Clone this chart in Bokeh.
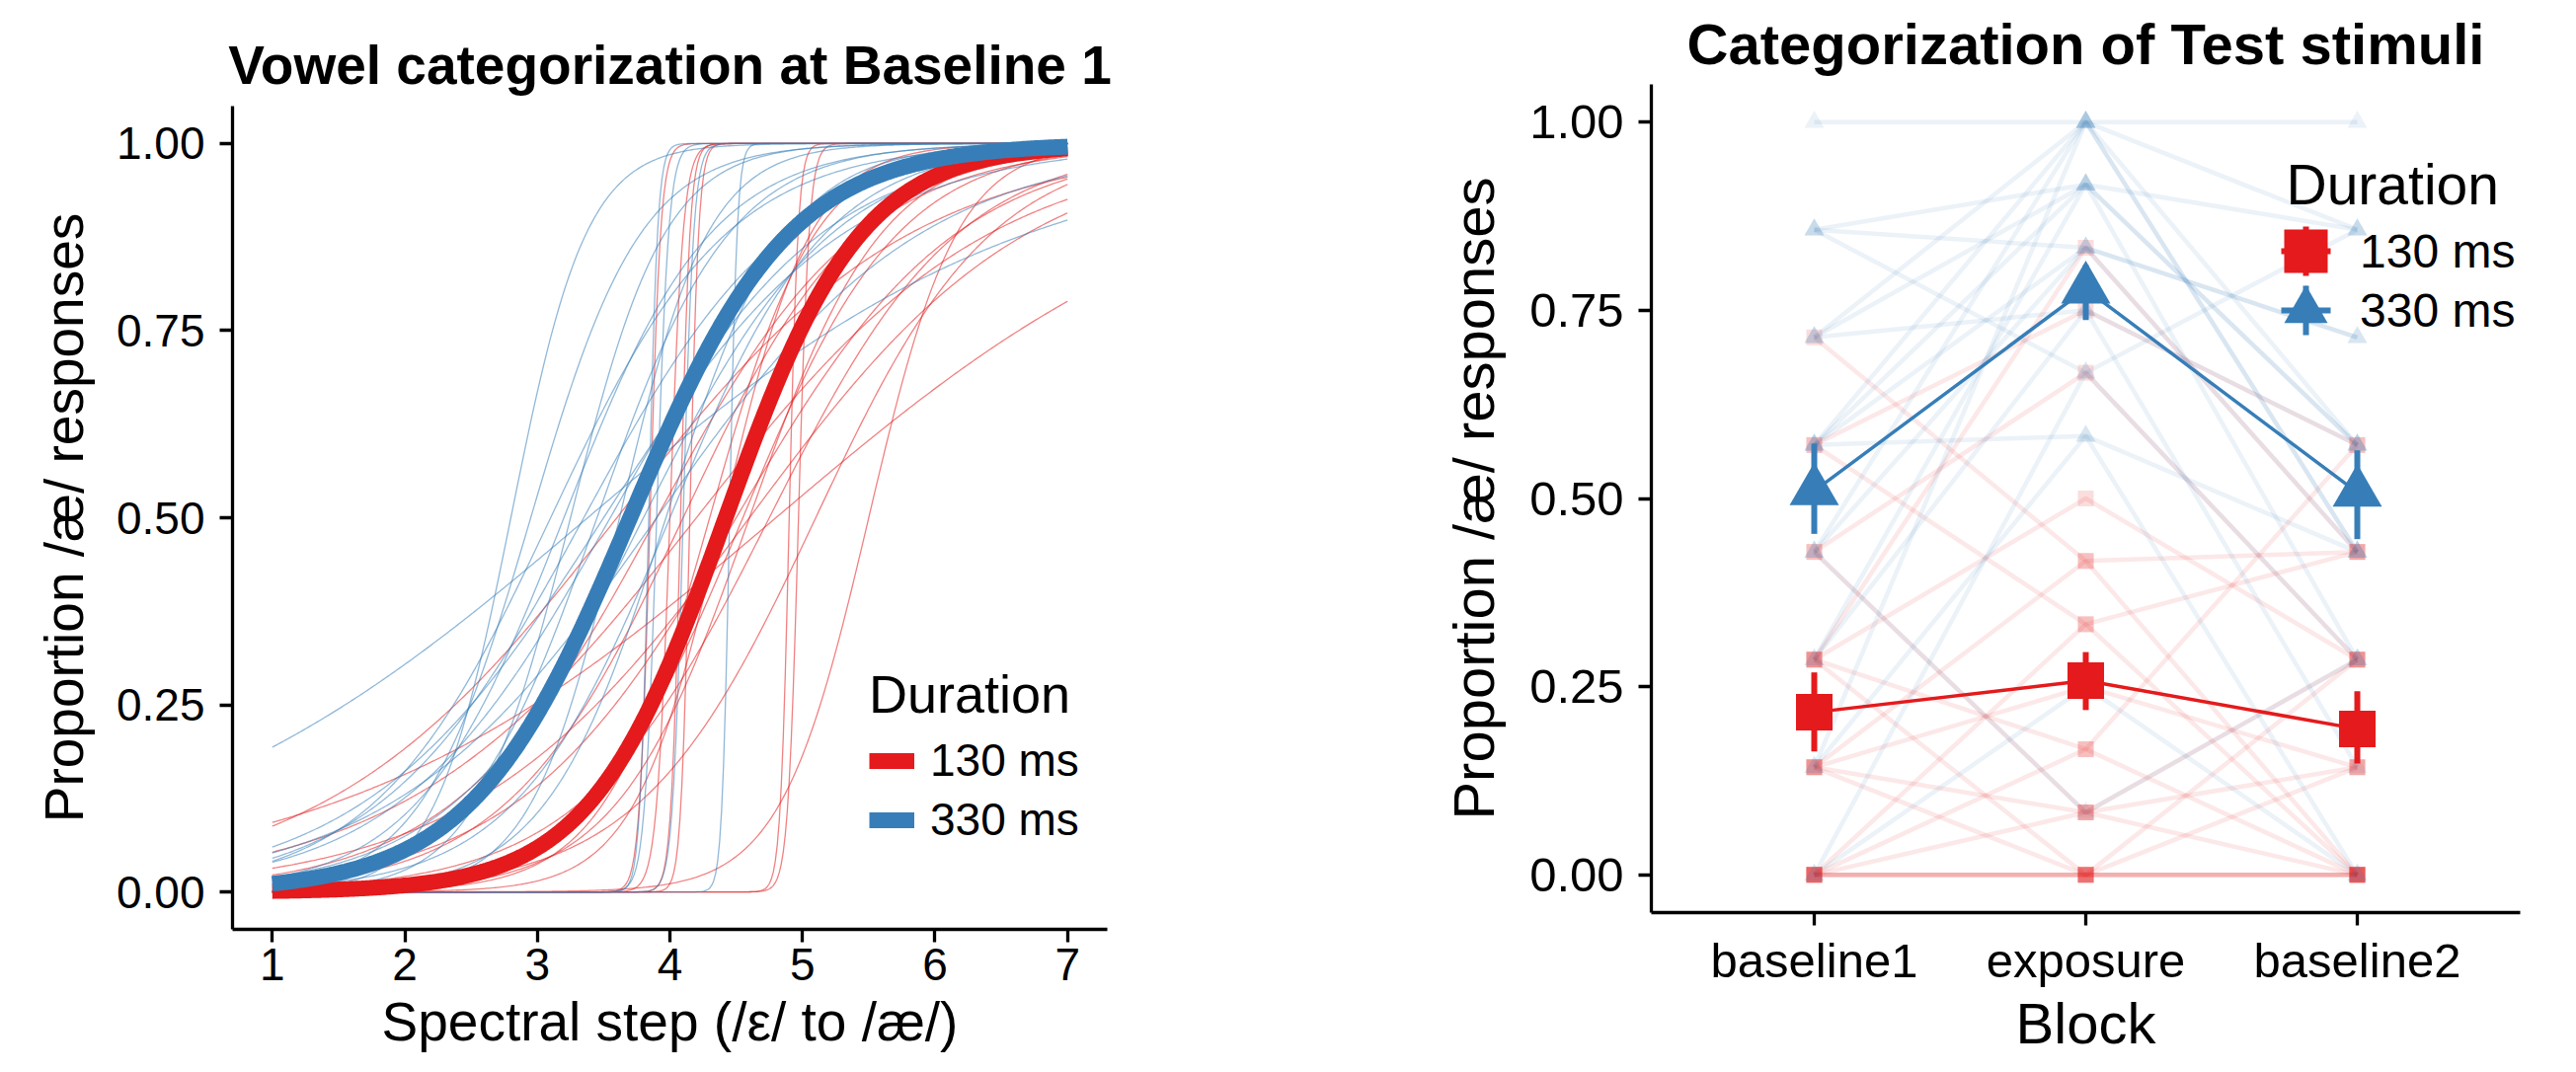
import numpy as np
from bokeh.plotting import figure
from bokeh.models import (Range1d, FixedTicker, NumeralTickFormatter, Legend,
                          LegendItem, Label)
from bokeh.layouts import row
from bokeh.embed import file_html
from bokeh.resources import INLINE

FONT = "Liberation Sans"
RED = "#E41A1C"
BLUE = "#377EB8"

# ---------------- data: left panel (logistic fits) ----------------
steps = [1, 2, 3, 4, 5, 6, 7]
duration_labels = ["130 ms", "330 ms"]
mean_midpoint = [4.42, 3.70]
mean_slope = [1.95, 1.66]

red_midpoint = [4.80, 4.20, 4.50, 4.10, 4.60, 4.30, 3.85, 4.00, 4.08, 4.90,
                4.97, 5.50, 4.75, 3.90, 4.40, 4.60, 3.60, 5.10, 4.55, 4.15]
red_slope = [0.60, 0.90, 1.20, 1.50, 2.00, 2.50, 25.0, 20.0, 28.0, 30.0,
             25.0, 3.00, 1.40, 1.30, 3.00, 0.95, 0.90, 1.50, 1.70, 30.0]

blue_midpoint = [3.38, 2.80, 2.95, 3.10, 3.25, 3.35, 3.45, 3.55, 3.62, 3.70,
                 3.80, 3.84, 3.90, 3.97, 3.90, 4.10, 4.45, 3.20, 3.50, 4.00]
blue_slope = [0.60, 3.50, 2.40, 1.50, 2.80, 1.30, 2.00, 1.25, 3.00, 1.60,
              1.40, 30.0, 22.0, 2.20, 1.00, 25.0, 35.0, 1.80, 1.10, 1.70]

# ---------------- data: right panel (proportion /ae/ per block) ----------------
blocks = ["baseline1", "exposure", "baseline2"]

red_baseline1 = [0, 0, 0, 0, 0, 0, 0, 0.143, 0.143, 0.143, 0.143, 0.286, 0.286,
                 0.286, 0.286, 0.429, 0.429, 0.571, 0.571, 0.714]
red_exposure = [0, 0, 0, 0.083, 0.167, 0, 0.333, 0, 0.083, 0.417, 0.25, 0, 0.167,
                0.5, 0.833, 0.083, 0.667, 0.333, 0.75, 0.417]
red_baseline2 = [0, 0, 0.143, 0, 0, 0.286, 0.429, 0, 0.286, 0, 0.143, 0, 0.571,
                 0.286, 0.429, 0.143, 0.286, 0, 0.571, 0.429]

blue_baseline1 = [0, 0, 0.143, 0.143, 0.286, 0.286, 0.429, 0.429, 0.429, 0.571,
                  0.571, 0.571, 0.571, 0.714, 0.714, 0.714, 0.857, 0.857, 0.857, 1.0]
blue_exposure = [0.25, 0.667, 0.583, 1.0, 0.917, 0.75, 1.0, 0.833, 0.083, 0.917,
                 1.0, 0.833, 0.583, 1.0, 0.75, 0.917, 0.917, 0.833, 0.667, 1.0]
blue_baseline2 = [0, 0.286, 0, 0.429, 0.286, 0.143, 0.571, 0.429, 0.286, 0.571,
                  0.429, 0.714, 0.429, 0.857, 0.571, 0.571, 0.857, 0.714, 0.857, 1.0]

red_mean = [0.216, 0.258, 0.194]
red_lower = [0.164, 0.219, 0.148]
red_upper = [0.269, 0.296, 0.244]
blue_mean = [0.510, 0.778, 0.508]
blue_lower = [0.453, 0.737, 0.446]
blue_upper = [0.573, 0.810, 0.564]

y_ticks = [0, 0.25, 0.5, 0.75, 1.0]


def style(p, tick_fs, lab_fs, title_fs, title_standoff):
    p.outline_line_color = None
    p.grid.visible = False
    p.background_fill_color = "white"
    p.border_fill_color = "white"
    p.title.text_font = FONT
    p.title.text_font_size = title_fs
    p.title.text_font_style = "bold"
    p.title.text_color = "black"
    p.title.align = "center"
    p.title.standoff = title_standoff
    for ax in (p.xaxis[0], p.yaxis[0]):
        ax.axis_line_width = 3.3
        ax.axis_line_color = "black"
        ax.major_tick_line_width = 3.3
        ax.major_tick_line_color = "black"
        ax.major_tick_out = 13
        ax.major_tick_in = 0
        ax.minor_tick_out = 0
        ax.minor_tick_in = 0
        ax.minor_tick_line_color = None
        ax.major_label_text_font = FONT
        ax.major_label_text_font_size = tick_fs
        ax.major_label_text_color = "black"
        ax.axis_label_text_font = FONT
        ax.axis_label_text_font_size = lab_fs
        ax.axis_label_text_font_style = "normal"
        ax.axis_label_text_color = "black"


# ======================= LEFT PANEL =======================
# frames of plots in a row share their top border, so the left panel is
# pushed down with a margin to keep its own vertical placement
p1 = figure(frame_width=886, frame_height=834,
            x_range=Range1d(0.7, 7.3), y_range=Range1d(-0.05, 1.05),
            output_backend="svg", toolbar_location=None,
            min_border_left=235, min_border_right=279,
            min_border_top=85, min_border_bottom=130,
            margin=(22, 0, 0, 0),
            title="Vowel categorization at Baseline 1")
style(p1, "46px", "55px", "55px", 21)
p1.xaxis[0].ticker = FixedTicker(ticks=steps)
p1.yaxis[0].ticker = FixedTicker(ticks=y_ticks)
p1.yaxis[0].formatter = NumeralTickFormatter(format="0.00")
p1.xaxis[0].axis_label = "Spectral step (/ε/ to /æ/)"
p1.yaxis[0].axis_label = "Proportion /æ/ responses"
p1.xaxis[0].major_label_standoff = 6
p1.xaxis[0].axis_label_standoff = 8
p1.yaxis[0].major_label_standoff = 15
p1.yaxis[0].axis_label_standoff = 19

grid = np.linspace(min(steps), max(steps), 401)


def curve(m, k):
    return 1.0 / (1.0 + np.exp(-k * (grid - m)))


p1.multi_line(xs=[grid] * len(red_midpoint),
              ys=[curve(m, k) for m, k in zip(red_midpoint, red_slope)],
              line_color=RED, line_alpha=0.55, line_width=1.3)
p1.multi_line(xs=[grid] * len(blue_midpoint),
              ys=[curve(m, k) for m, k in zip(blue_midpoint, blue_slope)],
              line_color=BLUE, line_alpha=0.55, line_width=1.3)
r_mean_red = p1.line(grid, curve(mean_midpoint[0], mean_slope[0]),
                     line_color=RED, line_width=16)
r_mean_blue = p1.line(grid, curve(mean_midpoint[1], mean_slope[1]),
                      line_color=BLUE, line_width=16)

leg1 = Legend(items=[LegendItem(label=duration_labels[0], renderers=[r_mean_red]),
                     LegendItem(label=duration_labels[1], renderers=[r_mean_blue])],
              location=(645, 84), title="Duration",
              border_line_color=None, background_fill_alpha=0,
              padding=0, margin=0, glyph_width=46, glyph_height=51,
              label_height=51, spacing=6, label_standoff=16, title_standoff=9,
              label_text_font=FONT, label_text_font_size="46px",
              label_text_color="black",
              title_text_font=FONT, title_text_font_size="54px",
              title_text_font_style="normal", title_text_color="black")
p1.add_layout(leg1)

# ======================= RIGHT PANEL =======================
p2 = figure(frame_width=880, frame_height=839,
            x_range=Range1d(0.4, 3.6), y_range=Range1d(-0.05, 1.05),
            output_backend="svg", toolbar_location=None,
            min_border_left=272, min_border_right=50,
            min_border_top=85, min_border_bottom=130,
            title="Categorization of Test stimuli")
style(p2, "49px", "58px", "58px", 18)
block_pos = [i + 1 for i in range(len(blocks))]
p2.xaxis[0].ticker = FixedTicker(ticks=block_pos)
p2.xaxis[0].major_label_overrides = {b: lab for b, lab in zip(block_pos, blocks)}
p2.yaxis[0].ticker = FixedTicker(ticks=y_ticks)
p2.yaxis[0].formatter = NumeralTickFormatter(format="0.00")
p2.xaxis[0].axis_label = "Block"
p2.yaxis[0].axis_label = "Proportion /æ/ responses"
p2.xaxis[0].major_label_standoff = 8
p2.xaxis[0].axis_label_standoff = 1
p2.yaxis[0].major_label_standoff = 15
p2.yaxis[0].axis_label_standoff = 21

red_trajs = [list(t) for t in zip(red_baseline1, red_exposure, red_baseline2)]
blue_trajs = [list(t) for t in zip(blue_baseline1, blue_exposure, blue_baseline2)]

p2.multi_line(xs=[block_pos] * len(red_trajs), ys=red_trajs,
              line_color=RED, line_alpha=0.10, line_width=4.5)
p2.multi_line(xs=[block_pos] * len(blue_trajs), ys=blue_trajs,
              line_color=BLUE, line_alpha=0.10, line_width=4.5)
for b, vals in zip(block_pos, (red_baseline1, red_exposure, red_baseline2)):
    p2.scatter(x=[b] * len(vals), y=vals, marker="square", size=16,
               fill_color=RED, fill_alpha=0.15, line_color=None)
for b, vals in zip(block_pos, (blue_baseline1, blue_exposure, blue_baseline2)):
    p2.scatter(x=[b] * len(vals), y=vals, marker="triangle", size=20,
               fill_color=BLUE, fill_alpha=0.10, line_color=None)

# means with error bars
p2.line(block_pos, red_mean, line_color=RED, line_width=3.5)
p2.line(block_pos, blue_mean, line_color=BLUE, line_width=3.5)
p2.segment(x0=block_pos, y0=red_lower, x1=block_pos, y1=red_upper,
           line_color=RED, line_width=6)
p2.segment(x0=block_pos, y0=blue_lower, x1=block_pos, y1=blue_upper,
           line_color=BLUE, line_width=6)
r_red_pt = p2.scatter(block_pos, red_mean, marker="square", size=37,
                      fill_color=RED, line_color=None)
r_blue_pt = p2.scatter(block_pos, blue_mean, marker="triangle", size=50,
                       fill_color=BLUE, line_color=None)
# legend-only keys (line + range cross), hidden from the panel
r_red_key = p2.scatter(block_pos, red_mean, marker="cross", size=44,
                       line_color=RED, line_width=6, line_cap="square", visible=False)
r_blue_key = p2.scatter(block_pos, blue_mean, marker="cross", size=44,
                        line_color=BLUE, line_width=6, line_cap="square", visible=False)


def key_legend(label, renderers, vy):
    return Legend(items=[LegendItem(label=label, renderers=renderers)],
                  location=(608, vy),
                  border_line_color=None, background_fill_alpha=0,
                  padding=0, margin=0, glyph_width=110, glyph_height=110,
                  label_height=110, spacing=0, label_standoff=0,
                  label_text_font=FONT, label_text_font_size="48px",
                  label_text_color="black")


p2.add_layout(key_legend(duration_labels[0], [r_red_key, r_red_pt], 615))
p2.add_layout(key_legend(duration_labels[1], [r_blue_key, r_blue_pt], 555))
p2.add_layout(Label(x=643, y=738, x_units="screen", y_units="screen",
                    text="Duration", text_font=FONT, text_font_size="57px",
                    text_color="black", text_baseline="middle",
                    text_align="left"))

layout = row(p1, p2)
open("out.html", "w").write(file_html(layout, INLINE))
